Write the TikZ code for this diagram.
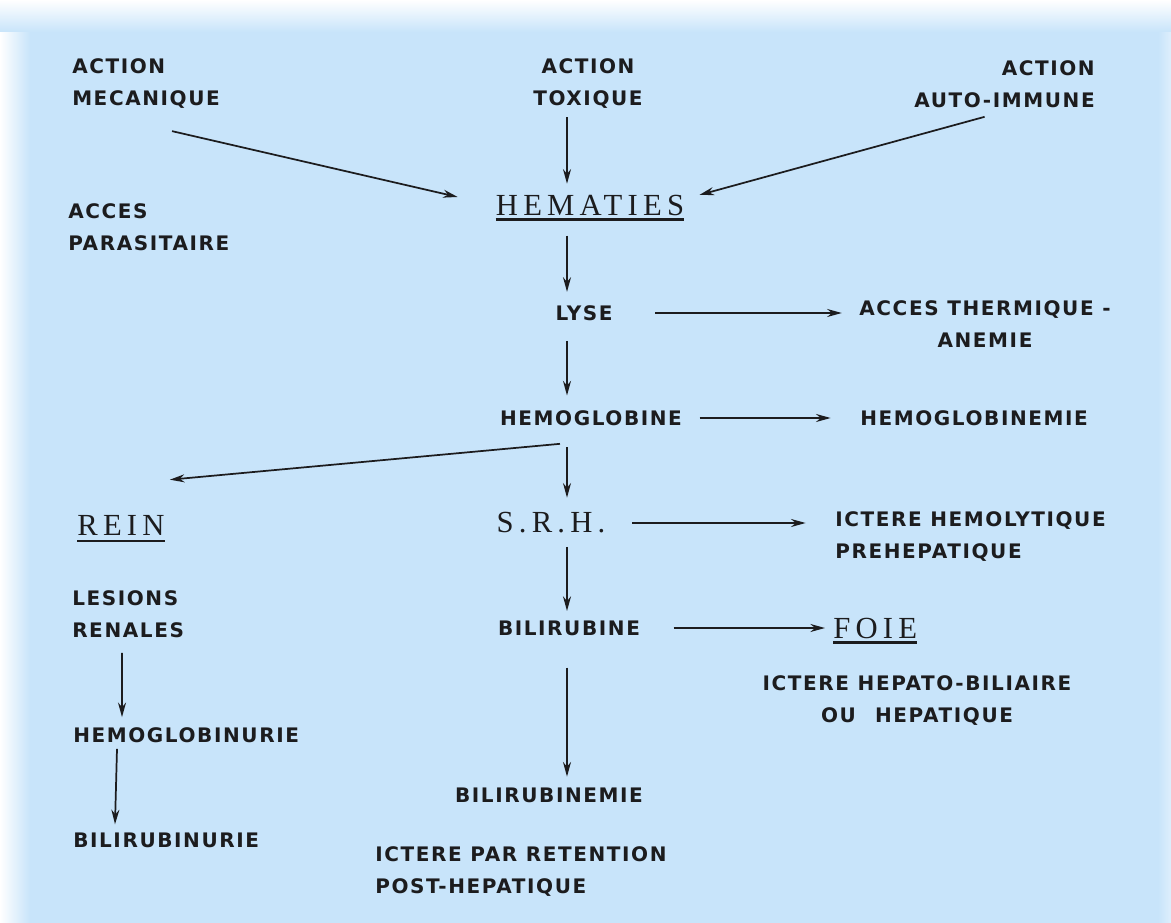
\documentclass[tikz,border=0pt]{standalone}
\usepackage{fontspec}
\usetikzlibrary{arrows.meta,positioning,calc}
\newfontfamily\etiqfont{DejaVu Sans}[LetterSpace=8]
\newfontfamily\titrefont{Liberation Serif}[LetterSpace=17]
\definecolor{fondbleu}{HTML}{C8E4FA}
\definecolor{encre}{HTML}{1C1C1E}
\tikzstyle{etiq} = [inner sep=0pt,text=encre,font=\etiqfont\bfseries\fontsize{15}{24}\selectfont]
\tikzstyle{titre} = [inner sep=0pt,text=encre,font=\titrefont\fontsize{23}{26}\selectfont]
\tikzstyle{fleche} = [encre,line width=1.3pt,-{Stealth[length=11pt,width=6pt]}]
\tikzstyle{souligne} = [encre,line width=1.7pt]

\begin{document}
\begin{tikzpicture}[x=0.75pt,y=-0.75pt]

	% fond
	\useasboundingbox (0,0) rectangle (1171,923);
	\fill[fondbleu] (0,0) rectangle (1171,923);
	\shade[left color=fondbleu,right color=white!40!fondbleu] (1158,0) rectangle (1171,923);
	\shade[left color=white,right color=fondbleu] (0,0) rectangle (30,923);
	\shade[top color=white,bottom color=fondbleu] (0,0) rectangle (1171,32);

	\coordinate (axe) at (567,0);

	% causes
	\node[etiq,align=left,anchor=west] (mecanique) at (72,84) {ACTION\\MECANIQUE};
	\node[etiq,align=center] (toxique) at (588,84) {ACTION\\TOXIQUE};
	\node[etiq,align=right,anchor=east] (autoimmune) at (1095,84) {ACTION\\AUTO-IMMUNE};
	\node[etiq,align=left,anchor=west] (parasitaire) at (68,227) {ACCES\\PARASITAIRE};

	% axe central
	\node[titre] (hematies) at (590,205) {HEMATIES};
	\node[etiq] (lyse) at (584,313) {LYSE};
	\node[etiq] (hemoglobine) at (591,418) {HEMOGLOBINE};
	\node[titre] (srh) at (551,523) {S.R.H.};
	\node[etiq] (bilirubine) at (569,628) {BILIRUBINE};
	\node[etiq] (bilirubinemie) at (549,795) {BILIRUBINEMIE};
	\node[etiq,align=left,anchor=west] (posthepatique) at (375,872) {ICTERE PAR RETENTION\\POST-HEPATIQUE};

	% colonne droite
	\node[etiq,align=center] (thermique) at (985,324) {ACCES THERMIQUE -\\ANEMIE};
	\node[etiq,anchor=west] (hemoglobinemie) at (860,418) {HEMOGLOBINEMIE};
	\node[etiq,align=left,anchor=west] (prehepatique) at (835,537) {ICTERE HEMOLYTIQUE\\PREHEPATIQUE};
	\node[titre,anchor=west] (foie) at (833,628) {FOIE};
	\node[etiq,align=center] (hepatobiliaire) at (917,701) {ICTERE HEPATO-BILIAIRE\\OU\hspace{8pt} HEPATIQUE};

	% colonne gauche
	\node[titre] (rein) at (121,525) {REIN};
	\node[etiq,align=left,anchor=west] (renales) at (72,614) {LESIONS\\RENALES};
	\node[etiq,anchor=west] (hemoglobinurie) at (73,735) {HEMOGLOBINURIE};
	\node[etiq,anchor=west] (bilirubinurie) at (73,840) {BILIRUBINURIE};

	% soulignes
	\draw[souligne] ([yshift=-3pt]hematies.south west) -- ([yshift=-3pt]hematies.south east);
	\draw[souligne] ([yshift=-4pt]rein.south west) -- ([yshift=-4pt]rein.south east);
	\draw[souligne] ([yshift=-3pt]foie.south west) -- ([yshift=-3pt]foie.south east);

	% fleches
	\draw[fleche] ($(mecanique.south)+(26,22)$) -- ($(hematies.west)+(-38,-8)$);
	\draw[fleche,shorten <=6pt,shorten >=8pt] (toxique.south -| axe) -- (hematies.north -| axe);
	\draw[fleche] ($(autoimmune.south)+(-20,9)$) -- ($(hematies.east)+(15,-10)$);
	\draw[fleche,shorten <=15pt,shorten >=10pt] (hematies.south -| axe) -- (lyse.north -| axe);
	\draw[fleche,shorten <=32pt,shorten >=13pt] (lyse.east) -- (lyse.east -| thermique.west);
	\draw[fleche,shorten <=15pt,shorten >=11pt] (lyse.south -| axe) -- (hemoglobine.north -| axe);
	\draw[fleche,shorten <=13pt,shorten >=22pt] (hemoglobine.east) -- (hemoglobinemie.west);
	\draw[fleche] ($(hemoglobine.south)+(-31,18)$) -- ($(rein.north east)+(5,-35)$);
	\draw[fleche,shorten <=16pt,shorten >=11pt] (hemoglobine.south -| axe) -- (srh.north -| axe);
	\draw[fleche,shorten <=20pt,shorten >=22pt] (srh.east) -- (srh.east -| prehepatique.west);
	\draw[fleche,shorten <=10pt,shorten >=7pt] (srh.south -| axe) -- (bilirubine.north -| axe);
	\draw[fleche,shorten <=25pt,shorten >=6pt] (bilirubine.east) -- (bilirubine.east -| foie.west);
	\draw[fleche,shorten <=24pt,shorten >=8pt] (bilirubine.south -| axe) -- (bilirubinemie.north -| axe);
	\draw[fleche] ($(renales.south)+(-6,15)$) -- ($(hemoglobinurie.north west)+(49,-10)$);
	\draw[fleche] ($(hemoglobinurie.south west)+(44,6)$) -- ($(bilirubinurie.north west)+(42,-8)$);

\end{tikzpicture}
\end{document}
